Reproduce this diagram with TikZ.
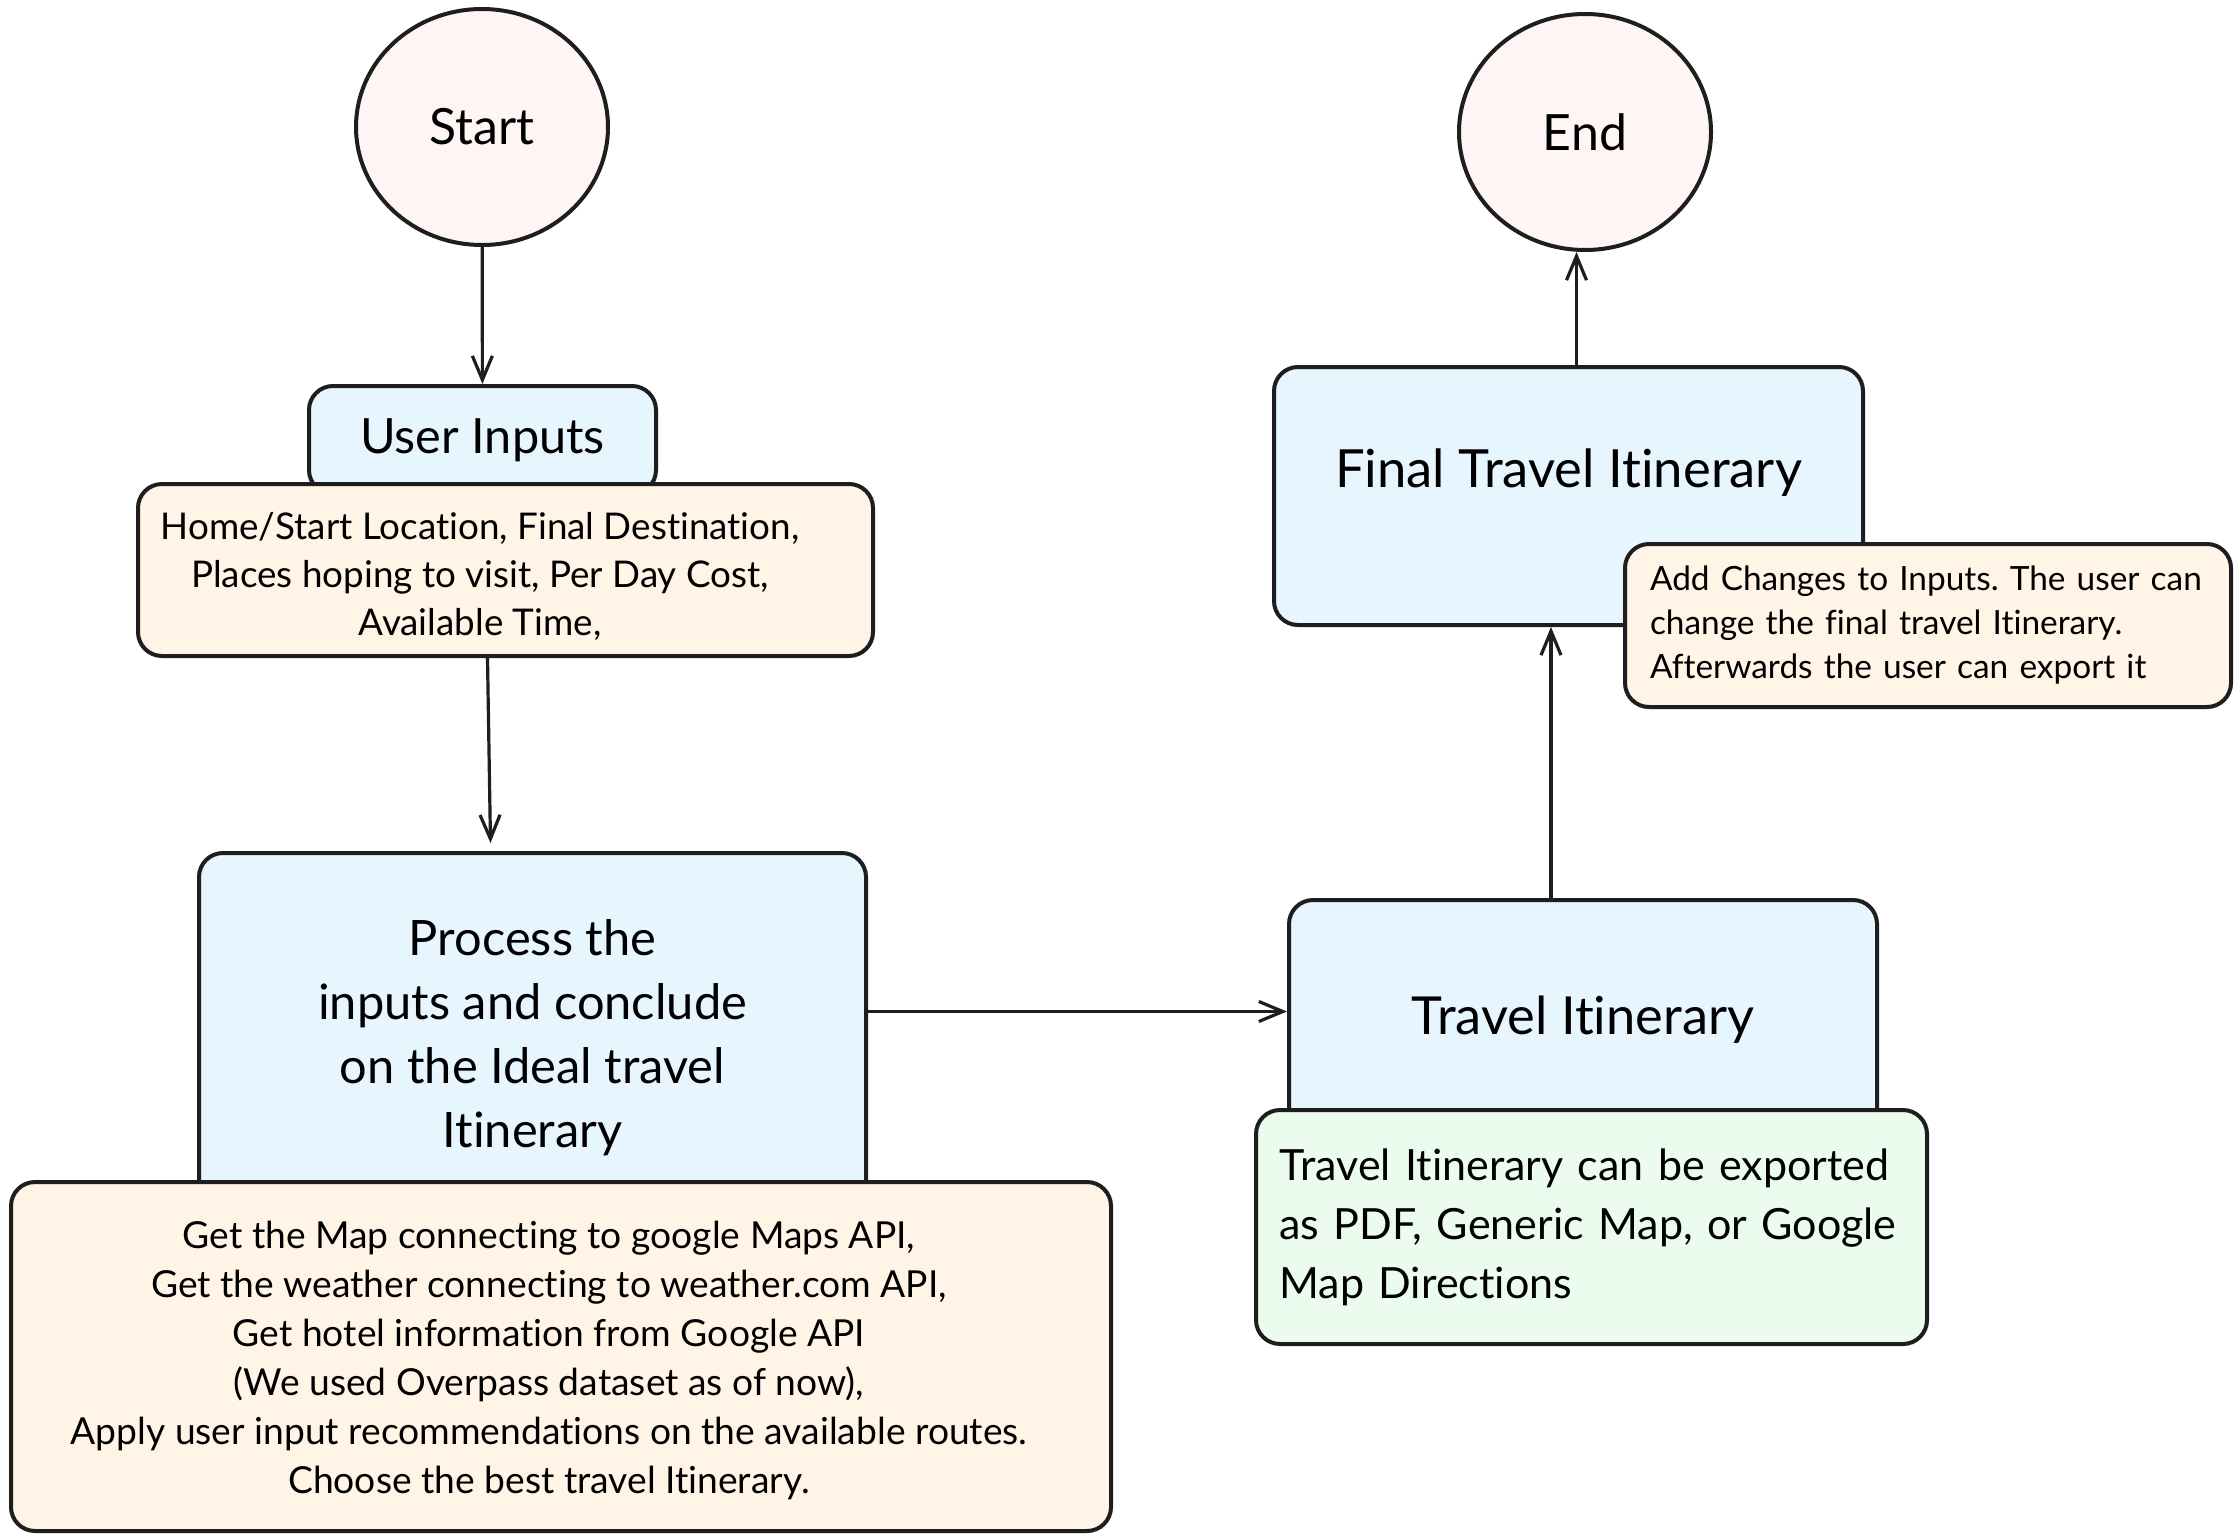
\documentclass[tikz,border=0pt]{standalone}
\usepackage{fontspec}
\setmainfont{Lato}[Ligatures=NoCommon]
\usetikzlibrary{shapes.geometric,arrows.meta}
\definecolor{inkgray}{HTML}{1E1E1E}
\definecolor{pinkfill}{HTML}{FFF5F5}
\definecolor{bluefill}{HTML}{E7F5FF}
\definecolor{orangefill}{HTML}{FFF4E6}
\definecolor{greenfill}{HTML}{EBFBEE}
\frenchspacing
\begin{document}
\begin{tikzpicture}[x=0.5pt,y=-0.5pt,
    terminal/.style={ellipse,draw=inkgray,line width=2pt,fill=pinkfill,
      minimum width=126pt,minimum height=118pt,inner sep=0pt,
      font=\fontsize{25}{30}\selectfont},
    stage/.style={rectangle,rounded corners=12pt,draw=inkgray,line width=2pt,
      fill=bluefill,inner sep=0pt,align=center},
    note/.style={rectangle,rounded corners=12pt,draw=inkgray,line width=2pt,
      fill=orangefill,inner sep=0pt,align=center}]
  \useasboundingbox (0,0) rectangle (2239,1537);
  \draw
    (482,127) node[terminal] (start) {Start}
    (1585,132) node[terminal] (end) {End}
    (482.5,440) node[stage,minimum width=173.5pt,minimum height=54pt,
      font=\fontsize{24.3}{29}\selectfont] (inputs) {User Inputs}
    (505.5,570) node[note,minimum width=367.5pt,minimum height=86pt] (inputsinfo) {}
    (480,576) node[align=center,font=\fontsize{18.4}{24}\selectfont] (inputslist)
      {Home/Start Location, Final Destination,\\
       Places hoping to visit, Per Day Cost,\\
       Available Time,}
    (532.5,1037.5) node[stage,minimum width=333.5pt,minimum height=184.5pt,
      font=\fontsize{24.4}{32}\selectfont] (process)
      {Process the\\ inputs and conclude\\ on the Ideal travel\\ Itinerary}
    (561,1356.5) node[note,minimum width=550pt,minimum height=174.5pt] (processinfo) {}
    (549,1360) node[align=center,font=\fontsize{18.6}{24.5}\selectfont] (processlist)
      {Get the Map connecting to google Maps API,\\
       Get the weather connecting to weather.com API,\\
       Get hotel information from Google API\\
       (We used Overpass dataset as of now),\\
       Apply user input recommendations on the available routes.\\
       Choose the best travel Itinerary.}
    (1583,1020) node[stage,minimum width=294pt,minimum height=120pt,
      font=\fontsize{26.2}{31}\selectfont] (travel) {Travel Itinerary}
    (1591.5,1227) node[note,fill=greenfill,align=left,text width=312pt,
      inner xsep=11.75pt,minimum height=117pt,
      font=\fontsize{21.5}{29.5}\selectfont] (export)
      {Travel Itinerary can be exported\\
       as PDF, Generic Map, or Google\\
       Map Directions}
    (1568.5,496) node[stage,minimum width=294.5pt,minimum height=129pt,
      text depth=28pt,font=\fontsize{26.3}{31}\selectfont] (final)
      {Final Travel Itinerary}
    (1928,625.5) node[note,align=left,text width=278pt,inner xsep=12.5pt,
      minimum height=81.5pt,font=\fontsize{16.7}{22}\selectfont] (changes)
      {Add Changes to Inputs. The user can\\
       change the final travel Itinerary.\\
       Afterwards the user can export it};
  \coordinate (liftfoot) at ([xshift=-16pt]travel.north);
  \coordinate (endfoot) at ([xshift=4pt]final.north);
  \begin{scope}[-{Straight Barb[length=12pt,width=10pt]},line width=1.6pt,
      draw=inkgray,line join=round]
    \draw (start) to (inputs);
    \draw ([xshift=-9pt]inputsinfo.south) to ([xshift=-21pt,yshift=4pt]process.north);
    \draw ([yshift=13pt]process.east) to ([yshift=13pt]process.east -| travel.west);
    \draw (liftfoot) to (liftfoot |- final.south);
    \draw (endfoot) to (endfoot |- end.south);
  \end{scope}
\end{tikzpicture}
\end{document}
